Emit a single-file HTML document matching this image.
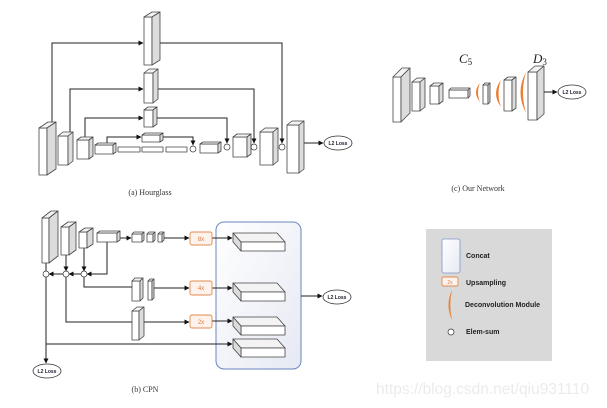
<!DOCTYPE html>
<html><head><meta charset="utf-8"><style>
html,body{margin:0;padding:0;background:#fff;}
svg{display:block;font-family:"Liberation Sans",sans-serif;}
.b rect,.b polygon{stroke:#444;stroke-width:0.8;stroke-linejoin:round;}
.f{fill:#fff}.t{fill:#f3f3f3}.s{fill:#dcdcdc}
.l{stroke:#222;stroke-width:1;fill:none}
.cap{font-family:"Liberation Serif",serif;font-size:8px;fill:#333}
.ll{font-size:5px;font-weight:bold;fill:#223}
.up{fill:#fdf3ec;stroke:#e08a4e;stroke-width:0.9}
.ut{font-size:6px;fill:#e07b39}
.cr{fill:#fff;stroke:#333;stroke-width:0.7}
.or{fill:#ed7d31}
.lg{font-size:7px;font-weight:bold;fill:#222}
</style></head><body>
<svg width="607" height="408" viewBox="0 0 607 408" xmlns="http://www.w3.org/2000/svg">
<defs>
<marker id="a" markerWidth="5" markerHeight="5" refX="4.5" refY="2.5" orient="auto" markerUnits="userSpaceOnUse"><path d="M0,0 L5,2.5 L0,5z" fill="#111"/></marker>
<linearGradient id="g" x1="0" y1="0" x2="1" y2="1"><stop offset="0" stop-color="#fff"/><stop offset="1" stop-color="#e6e9f3"/></linearGradient>
</defs>

<!-- Hourglass lines -->
<path class="l" d="M52,122 V43 H143" marker-end="url(#a)"/>
<path class="l" d="M160,43 H282 V143" marker-end="url(#a)"/>
<path class="l" d="M70,132 V89 H143" marker-end="url(#a)"/>
<path class="l" d="M158,89 H254 V143" marker-end="url(#a)"/>
<path class="l" d="M85,137 V118 H143" marker-end="url(#a)"/>
<path class="l" d="M157,118 H227 V143" marker-end="url(#a)"/>
<path class="l" d="M107,143 V137 H141" marker-end="url(#a)"/>
<path class="l" d="M163,137 H193 V145" marker-end="url(#a)"/>
<path class="l" d="M304,143 H323" marker-end="url(#a)"/>

<g class="b">
<rect class="f" x="39" y="128" width="8" height="47"/><polygon class="t" points="39,128 48,122 56,122 47,128"/><polygon class="s" points="47,128 56,122 56,169 47,175"/>
<rect class="f" x="58" y="136" width="10" height="29"/><polygon class="t" points="58,136 63,132 73,132 68,136"/><polygon class="s" points="68,136 73,132 73,161 68,165"/>
<rect class="f" x="77" y="140" width="12" height="19"/><polygon class="t" points="77,140 81,137 93,137 89,140"/><polygon class="s" points="89,140 93,137 93,156 89,159"/>
<rect class="f" x="95" y="145" width="18" height="9"/><polygon class="t" points="95,145 98,143 116,143 113,145"/><polygon class="s" points="113,145 116,143 116,152 113,154"/>
<rect class="f" x="118" y="147" width="22" height="5"/><rect class="f" x="142" y="147" width="21" height="5"/><rect class="f" x="166" y="147" width="21" height="5"/>
<rect class="f" x="200" y="144" width="18" height="9"/><polygon class="t" points="200,144 203,142 221,142 218,144"/><polygon class="s" points="218,144 221,142 221,151 218,153"/>
<rect class="f" x="233" y="137" width="14" height="20"/><polygon class="t" points="233,137 237,134 251,134 247,137"/><polygon class="s" points="247,137 251,134 251,154 247,157"/>
<rect class="f" x="260" y="132" width="13" height="33"/><polygon class="t" points="260,132 265,128 278,128 273,132"/><polygon class="s" points="273,132 278,128 278,161 273,165"/>
<rect class="f" x="287" y="125" width="12" height="48"/><polygon class="t" points="287,125 292,121 304,121 299,125"/><polygon class="s" points="299,125 304,121 304,169 299,173"/>
<rect class="f" x="144" y="17" width="8" height="48"/><polygon class="t" points="144,17 152,12 160,12 152,17"/><polygon class="s" points="152,17 160,12 160,60 152,65"/>
<rect class="f" x="144" y="73" width="9" height="30"/><polygon class="t" points="144,73 149,69 158,69 153,73"/><polygon class="s" points="153,73 158,69 158,99 153,103"/>
<rect class="f" x="144" y="110" width="9" height="17"/><polygon class="t" points="144,110 148,107 157,107 153,110"/><polygon class="s" points="153,110 157,107 157,124 153,127"/>
<rect class="f" x="142" y="135" width="18" height="7"/><polygon class="t" points="142,135 145,133 163,133 160,135"/><polygon class="s" points="160,135 163,133 163,140 160,142"/>
</g>
<circle class="cr" cx="193" cy="149" r="3"/><circle class="cr" cx="227" cy="147" r="3"/><circle class="cr" cx="254" cy="147" r="3"/><circle class="cr" cx="282" cy="147" r="3"/>
<ellipse cx="338" cy="143" rx="14" ry="7" fill="#fff" stroke="#333" stroke-width="0.8"/>
<text class="ll" x="338" y="145" text-anchor="middle">L2 Loss</text>
<text class="cap" x="150" y="195" text-anchor="middle">(a) Hourglass</text>

<!-- CPN -->
<rect x="216" y="222" width="85" height="147" rx="8" fill="url(#g)" stroke="#6a85c0" stroke-width="1"/>
<path class="l" d="M120,238 H131" marker-end="url(#a)"/>
<path class="l" d="M164,238 H189" marker-end="url(#a)"/>
<path class="l" d="M212,238 H232" marker-end="url(#a)"/>
<path class="l" d="M46,263 V271"/>
<path class="l" d="M66,255 V271" marker-end="url(#a)"/>
<path class="l" d="M84,248 V271" marker-end="url(#a)"/>
<path class="l" d="M107,242 V274 H87" marker-end="url(#a)"/>
<path class="l" d="M81,274 H69" marker-end="url(#a)"/>
<path class="l" d="M63,274 H49" marker-end="url(#a)"/>
<path class="l" d="M84,277 V287 H132"/>
<path class="l" d="M154,288 H189" marker-end="url(#a)"/>
<path class="l" d="M212,288 H232" marker-end="url(#a)"/>
<path class="l" d="M66,277 V322 H132"/>
<path class="l" d="M144,322 H189" marker-end="url(#a)"/>
<path class="l" d="M212,321 H232" marker-end="url(#a)"/>
<path class="l" d="M46,277 V344 H232" marker-end="url(#a)"/>
<path class="l" d="M46,344 V363" marker-end="url(#a)"/>
<path class="l" d="M301,296 H322" marker-end="url(#a)"/>
<g class="b">
<rect class="f" x="42" y="218" width="7" height="45"/><polygon class="t" points="42,218 51,211 58,211 49,218"/><polygon class="s" points="49,218 58,211 58,256 49,263"/>
<rect class="f" x="61" y="227" width="8" height="28"/><polygon class="t" points="61,227 68,222 76,222 69,227"/><polygon class="s" points="69,227 76,222 76,250 69,255"/>
<rect class="f" x="79" y="232" width="8" height="16"/><polygon class="t" points="79,232 85,228 93,228 87,232"/><polygon class="s" points="87,232 93,228 93,244 87,248"/>
<rect class="f" x="97" y="233" width="20" height="9"/><polygon class="t" points="97,233 100,231 120,231 117,233"/><polygon class="s" points="117,233 120,231 120,240 117,242"/>
<rect class="f" x="132" y="234" width="10" height="8"/><polygon class="t" points="132,234 134,232 144,232 142,234"/><polygon class="s" points="142,234 144,232 144,240 142,242"/>
<rect class="f" x="147" y="234" width="6" height="8"/><polygon class="t" points="147,234 149,232 155,232 153,234"/><polygon class="s" points="153,234 155,232 155,240 153,242"/>
<rect class="f" x="158" y="234" width="4" height="8"/><polygon class="t" points="158,234 160,232 164,232 162,234"/><polygon class="s" points="162,234 164,232 164,240 162,242"/>
<rect class="f" x="132" y="281" width="8" height="20"/><polygon class="t" points="132,281 135,278 143,278 140,281"/><polygon class="s" points="140,281 143,278 143,298 140,301"/>
<rect class="f" x="148" y="281" width="4" height="19"/><polygon class="t" points="148,281 150,279 154,279 152,281"/><polygon class="s" points="152,281 154,279 154,298 152,300"/>
<rect class="f" x="132" y="311" width="7" height="29"/><polygon class="t" points="132,311 137,307 144,307 139,311"/><polygon class="s" points="139,311 144,307 144,336 139,340"/>
<polygon class="t" points="233,233 277,233 285,242 241,242"/><rect class="f" x="241" y="242" width="44" height="9"/><polygon class="s" points="233,233 241,242 241,251 233,242"/>
<polygon class="t" points="233,283 277,283 285,292 241,292"/><rect class="f" x="241" y="292" width="44" height="9"/><polygon class="s" points="233,283 241,292 241,301 233,292"/>
<polygon class="t" points="233,317 277,317 285,326 241,326"/><rect class="f" x="241" y="326" width="44" height="9"/><polygon class="s" points="233,317 241,326 241,335 233,326"/>
<polygon class="t" points="233,339 277,339 285,348 241,348"/><rect class="f" x="241" y="348" width="44" height="9"/><polygon class="s" points="233,339 241,348 241,357 233,348"/>
</g>
<rect class="up" x="190" y="232" width="22" height="13" rx="2"/><text class="ut" x="201" y="241" text-anchor="middle">8x</text>
<rect class="up" x="190" y="281" width="22" height="14" rx="2"/><text class="ut" x="201" y="290" text-anchor="middle">4x</text>
<rect class="up" x="190" y="315" width="22" height="13" rx="2"/><text class="ut" x="201" y="324" text-anchor="middle">2x</text>
<circle class="cr" cx="46" cy="274" r="3"/><circle class="cr" cx="66" cy="274" r="3"/><circle class="cr" cx="84" cy="274" r="3"/>
<ellipse cx="47" cy="371" rx="14" ry="7" fill="#fff" stroke="#333" stroke-width="0.8"/>
<text class="ll" x="47" y="373" text-anchor="middle">L2 Loss</text>
<ellipse cx="337" cy="297" rx="14" ry="7" fill="#fff" stroke="#333" stroke-width="0.8"/>
<text class="ll" x="337" y="299" text-anchor="middle">L2 Loss</text>
<text class="cap" x="145" y="392" text-anchor="middle">(b) CPN</text>

<!-- Our network -->
<g class="b">
<rect class="f" x="393" y="77" width="8" height="45"/><polygon class="t" points="393,77 402,68 410,68 401,77"/><polygon class="s" points="401,77 410,68 410,113 401,122"/>
<rect class="f" x="412" y="82" width="8" height="29"/><polygon class="t" points="412,82 417,78 425,78 420,82"/><polygon class="s" points="420,82 425,78 425,107 420,111"/>
<rect class="f" x="430" y="86" width="9" height="18"/><polygon class="t" points="430,86 434,83 443,83 439,86"/><polygon class="s" points="439,86 443,83 443,101 439,104"/>
<rect class="f" x="449" y="90" width="19" height="8"/><polygon class="t" points="449,90 451,88 470,88 468,90"/><polygon class="s" points="468,90 470,88 470,96 468,98"/>
<rect class="f" x="483" y="85" width="5" height="19"/><polygon class="t" points="483,85 485,83 490,83 488,85"/><polygon class="s" points="488,85 490,83 490,102 488,104"/>
<rect class="f" x="504" y="80" width="8" height="31"/><polygon class="t" points="504,80 508,77 516,77 512,80"/><polygon class="s" points="512,80 516,77 516,108 512,111"/>
<rect class="f" x="528" y="72" width="9" height="48"/><polygon class="t" points="528,72 535,66 544,66 537,72"/><polygon class="s" points="537,72 544,66 544,114 537,120"/>
</g>
<path class="or" d="M480,83 Q472,92.5 480,102 Q476,92.5 480,83z"/>
<path class="or" d="M501,80 Q491,93.5 501,107 Q496,93.5 501,80z"/>
<path class="or" d="M526,72 Q515,92.5 526,113 Q520,92.5 526,72z"/>
<path class="l" d="M544,92 H557" marker-end="url(#a)"/>
<ellipse cx="572" cy="92" rx="14" ry="7" fill="#fff" stroke="#333" stroke-width="0.8"/>
<text class="ll" x="572" y="94" text-anchor="middle">L2 Loss</text>
<text x="459" y="63" font-family="Liberation Serif,serif" font-style="italic" font-size="13" fill="#222">C<tspan font-style="normal" font-size="9" dy="2">5</tspan></text>
<text x="533" y="63" font-family="Liberation Serif,serif" font-style="italic" font-size="13" fill="#222">D<tspan font-style="normal" font-size="9" dy="2">3</tspan></text>
<text class="cap" x="478" y="191" text-anchor="middle">(c) Our Network</text>

<!-- Legend -->
<rect x="426" y="229" width="126" height="132" fill="#d9d9d9"/>
<rect x="442" y="239" width="18" height="34" rx="2" fill="url(#g)" stroke="#7d95c8" stroke-width="0.8"/>
<text class="lg" x="466" y="258">Concat</text>
<rect class="up" x="442" y="277" width="16" height="9" rx="1.5"/><text x="450" y="284" font-size="5" fill="#e07b39" text-anchor="middle">2x</text>
<text class="lg" x="466" y="285">Upsampling</text>
<path class="or" d="M452,290 Q445,305 452,320 Q448.5,305 452,290z"/>
<text class="lg" x="465" y="307">Deconvolution Module</text>
<circle class="cr" cx="451" cy="332" r="3"/>
<text class="lg" x="466" y="334">Elem-sum</text>

<text x="376" y="394" font-size="15.5" fill="#ebebeb">https://blog.csdn.net/qiu931110</text>
</svg>
</body></html>
